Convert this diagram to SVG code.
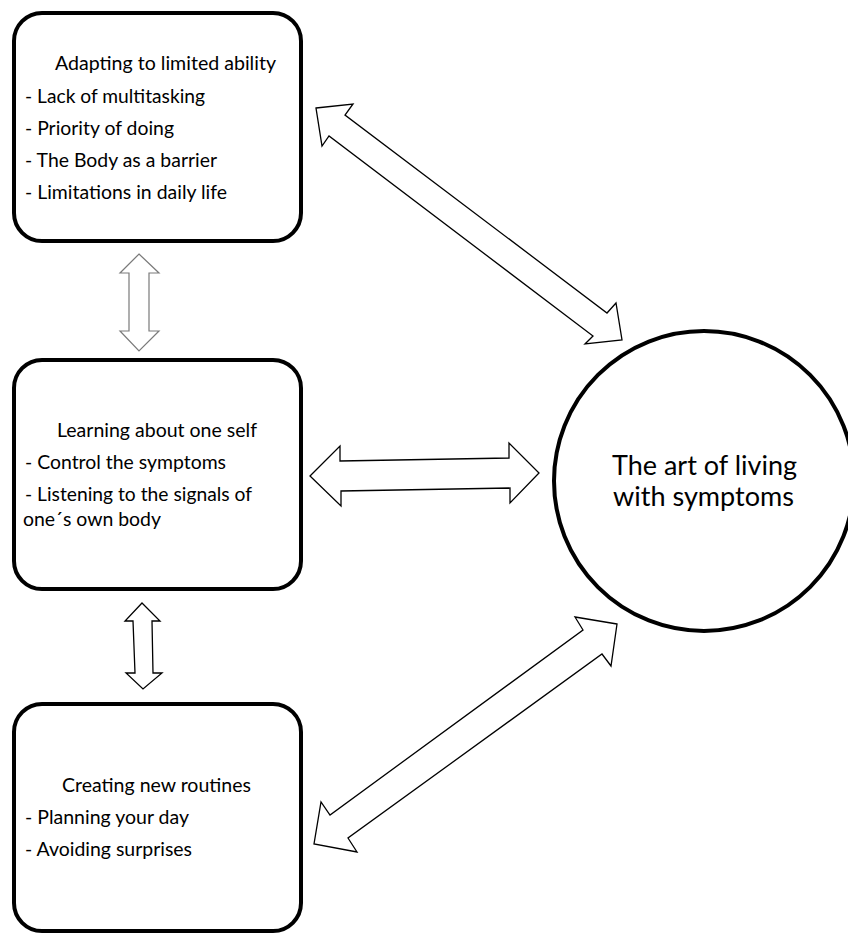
<svg xmlns="http://www.w3.org/2000/svg" width="848" height="934" viewBox="0 0 848 934">
<style>
.box{fill:#fff;stroke:#000;stroke-width:4}
.t{font-family:Lato,"Open Sans",sans-serif;font-size:19.5px;fill:#000}
.big{font-family:Lato,"Open Sans",sans-serif;font-size:26px;fill:#000}
.arr{fill:#fff;stroke:#000;stroke-width:1.3;stroke-linejoin:miter}
.arrg{fill:#fff;stroke:#7a7a7a;stroke-width:1.2}
</style>
<rect width="848" height="934" fill="#fff"/>
<g id="connectors">
<polygon class="arr" points="316,108 353,104 345,115 607,313 616,303 622,340 585,344 593,336 329,136 322,146"/>
<polygon class="arrg" points="139,254 159,273 149,273 149,331 159,331 139,351 120,331 129,331 129,273 120,273"/>
<polygon class="arr" points="310,476 340,446 340,461 509,458 509,443 539,473 510,503 510,488 341,491 341,506"/>
<polygon class="arr" points="142,603 160,621 152,621 153,673 162,673 143,689 126,673 135,673 133,621 125,621"/>
<polygon class="arr" points="617,624 575,617 583,630 330,815 321,802 314,844 357,852 348,838 602,654 611,666"/>
</g>
<g id="node-adapting">
<rect class="box" x="14" y="13" width="287" height="228" rx="28"/>
<text class="t" x="55" y="70" textLength="221" lengthAdjust="spacingAndGlyphs">Adapting to limited ability</text>
<text class="t" x="25" y="103" textLength="180" lengthAdjust="spacingAndGlyphs">- Lack of multitasking</text>
<text class="t" x="25" y="135" textLength="149" lengthAdjust="spacingAndGlyphs">- Priority of doing</text>
<text class="t" x="25" y="167" textLength="192" lengthAdjust="spacingAndGlyphs">- The Body as a barrier</text>
<text class="t" x="25" y="199" textLength="202" lengthAdjust="spacingAndGlyphs">- Limitations in daily life</text>
</g>
<g id="node-learning">
<rect class="box" x="14" y="360" width="287" height="229" rx="28"/>
<text class="t" x="57" y="437" textLength="200" lengthAdjust="spacingAndGlyphs">Learning about one self</text>
<text class="t" x="25" y="469" textLength="201" lengthAdjust="spacingAndGlyphs">- Control the symptoms</text>
<text class="t" x="25" y="501" textLength="227" lengthAdjust="spacingAndGlyphs">- Listening to the signals of</text>
<text class="t" x="23" y="526" textLength="138" lengthAdjust="spacingAndGlyphs">one´s own body</text>
</g>
<g id="node-creating">
<rect class="box" x="14" y="704" width="287" height="227" rx="28"/>
<text class="t" x="62" y="792" textLength="189" lengthAdjust="spacingAndGlyphs">Creating new routines</text>
<text class="t" x="25" y="824" textLength="164" lengthAdjust="spacingAndGlyphs">- Planning your day</text>
<text class="t" x="25" y="856" textLength="167" lengthAdjust="spacingAndGlyphs">- Avoiding surprises</text>
</g>
<g id="node-art">
<circle cx="704" cy="481" r="150" fill="#fff" stroke="#000" stroke-width="4"/>
<text class="big" x="612" y="475" textLength="185" lengthAdjust="spacingAndGlyphs">The art of living</text>
<text class="big" x="613" y="506" textLength="181" lengthAdjust="spacingAndGlyphs">with symptoms</text>
</g>
</svg>
